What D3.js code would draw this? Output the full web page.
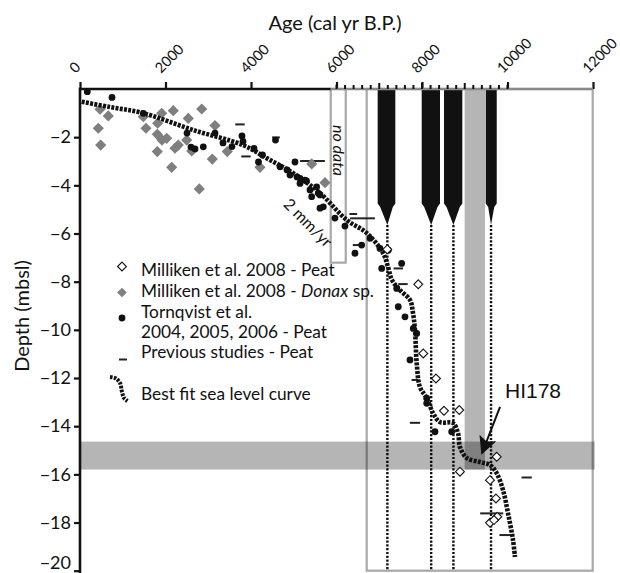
<!DOCTYPE html>
<html>
<head>
<meta charset="utf-8">
<script src="https://cdn.jsdelivr.net/npm/d3@7.9.0/dist/d3.min.js"></script>
<style>
  body { margin: 0; background: #fff; }
  svg { display: block; font-family: Lato, "Open Sans", sans-serif; }
</style>
</head>
<body>
<svg id="chart" width="620" height="573"></svg>
<script>
// best fit sea level curve (age cal yr BP, depth m)
const curveAge = [40, 702, 1474, 2643, 3813, 4367, 4982, 5614, 6239, 6706, 7088, 7205, 7298, 7485, 7719, 7789, 7836, 7876, 7953, 8110, 8257, 8421, 8725, 8842, 8889, 9046, 9357, 9591, 9747, 9895, 10012, 10129, 10175];
const curveDepth = [-0.53, -0.75, -1.0, -1.70, -2.33, -2.87, -3.49, -4.32, -5.44, -5.98, -6.81, -7.39, -7.93, -8.35, -8.76, -9.30, -10.01, -11.38, -12.38, -12.83, -13.45, -13.83, -13.87, -14.29, -14.87, -15.32, -15.49, -15.61, -15.95, -16.65, -17.61, -18.73, -19.43];

// Milliken et al. 2008 - Donax sp.
const donaxAge = [468, 662, 428, 484, 1481, 1544, 1817, 1911, 2182, 1808, 2028, 1918, 1808, 2222, 2299, 2145, 2533, 2847, 2496, 2613, 3158, 3095, 2790, 3445, 4210, 5420, 5731];
const donaxDepth = [-0.84, -1.12, -1.63, -2.33, -1.15, -1.63, -1.42, -1.01, -0.90, -1.88, -2.05, -2.12, -2.60, -2.46, -2.33, -3.25, -1.22, -0.83, -2.12, -2.57, -1.52, -2.91, -4.15, -2.60, -3.25, -3.11, -3.89];

// Tornqvist et al. 2004, 2005, 2006 - Peat
const tornAge = [171, 749, 1481, 2503, 2596, 2690, 2884, 3158, 3345, 3555, 3789, 3813, 4070, 4269, 4175, 4573, 5029, 4842, 4678, 4912, 5076, 5146, 5263, 5298, 5380, 5419, 5536, 5575, 5614, 5691, 5146, 5614, 5964, 6198, 6432, 6589, 6783, 7017, 7211, 7057, 7524, 7408, 7445, 7602, 7796, 7876, 7719, 8110, 8110, 8304, 8694];
const tornDepth = [-0.11, -0.35, -1.01, -1.83, -2.41, -2.49, -2.40, -1.83, -2.24, -2.39, -1.95, -2.18, -2.47, -2.74, -3.03, -2.12, -3.03, -3.36, -3.23, -3.57, -3.65, -3.71, -3.78, -3.82, -4.19, -4.47, -4.06, -4.33, -4.40, -4.89, -3.92, -4.95, -5.36, -5.69, -6.82, -6.48, -6.20, -6.62, -6.69, -7.45, -7.24, -8.28, -9.04, -9.46, -9.94, -10.15, -11.25, -12.84, -13.05, -14.23, -14.23];

// Milliken et al. 2008 - Peat
const peatAge = [7188, 7913, 8030, 8327, 8514, 8872, 8888, 9747, 9590, 9730, 9761, 9590, 9684];
const peatDepth = [-6.66, -8.11, -10.98, -12.02, -13.36, -13.33, -15.89, -15.27, -16.24, -17.00, -17.76, -18.01, -17.90];

// Previous studies - Peat (age, depth, age half-range)
const prevAge = [3742, 4584, 3883, 5438, 6393, 6608, 6472, 7445, 7555, 7836, 7836, 10448, 9630, 9941];
const prevDepth = [-1.47, -2.01, -2.80, -2.99, -5.19, -5.37, -6.48, -7.45, -8.10, -12.08, -13.86, -16.13, -17.62, -18.52];
const prevErr = [110, 90, 110, 290, 90, 290, 90, 110, 110, 80, 120, 120, 270, 130];

// black age bars at top and their dotted projections
const barStart = [6963, 7993, 8515, 9490];
const barEnd = [7376, 8421, 8943, 9748];
const barLine = [7190, 8215, 8735, 9615];
const barTop = 0, barWide = -4.75, barNeck = -4.9, barTip = -5.65;

// grey boxes / bands
const noDataAge = [5865, 6216], noDataDepth = [0, -7.21];
const frameAge = [6706, 11993], frameDepth = [0, -20];
const greyBarAge = [8998, 9474], greyBarDepth = [0, -15.8];
const bandDepth = [-14.64, -15.8];

// axis ticks
const ageTicks = [0, 2000, 4000, 6000, 8000, 10000, 12000];
const minorTicks = d3.range(6000, 10001, 200);
const midTicks = [7000, 8000, 9000];
const depthTicks = [-2, -4, -6, -8, -10, -12, -14, -16, -18, -20];

const svg = d3.select('#chart');
const x = d3.scaleLinear().domain([0, 12000]).range([80, 593]);
const y = d3.scaleLinear().domain([0, -20]).range([89, 570.7]);

// vertical grey bar (semi transparent, overlap with band darker)
svg.append('rect')
  .attr('x', x(greyBarAge[0])).attr('y', y(greyBarDepth[0]))
  .attr('width', x(greyBarAge[1]) - x(greyBarAge[0]))
  .attr('height', y(greyBarDepth[1]) - y(greyBarDepth[0]))
  .attr('fill', '#000').attr('opacity', 0.29);

// frames
svg.append('rect')
  .attr('x', x(frameAge[0])).attr('y', y(frameDepth[0]))
  .attr('width', x(frameAge[1]) - x(frameAge[0]))
  .attr('height', y(frameDepth[1]) - y(frameDepth[0]))
  .attr('fill', 'none').attr('stroke', '#a8a8a8').attr('stroke-width', 2.2);
svg.append('rect')
  .attr('x', x(noDataAge[0])).attr('y', y(noDataDepth[0]))
  .attr('width', x(noDataAge[1]) - x(noDataAge[0]))
  .attr('height', y(noDataDepth[1]) - y(noDataDepth[0]))
  .attr('fill', 'none').attr('stroke', '#a8a8a8').attr('stroke-width', 2.2);

// dotted vertical lines
barLine.forEach((a) => {
  svg.append('line')
    .attr('x1', x(a)).attr('x2', x(a))
    .attr('y1', y(barTip)).attr('y2', y(-20))
    .attr('stroke', '#111').attr('stroke-width', 2.4)
    .attr('stroke-dasharray', '2.2,1.6');
});

// black bars
barStart.forEach((s, i) => {
  const x0 = x(s), x1 = x(barEnd[i]), cx = x(barLine[i]);
  const pts = [
    [x0, y(barTop)], [x1, y(barTop)], [x1, y(barWide)],
    [x1 - 2.5, y(barNeck)], [cx, y(barTip)], [x0 + 2.5, y(barNeck)], [x0, y(barWide)]
  ];
  svg.append('path')
    .attr('d', d3.line()(pts) + 'Z')
    .attr('fill', '#111');
});

// horizontal band
svg.append('rect')
  .attr('x', x(0)).attr('y', y(bandDepth[0]))
  .attr('width', x(frameAge[1]) - x(0) + 2)
  .attr('height', y(bandDepth[1]) - y(bandDepth[0]))
  .attr('fill', '#000').attr('opacity', 0.29);

// previous studies dashes
prevAge.forEach((a, i) => {
  svg.append('line')
    .attr('x1', x(a - prevErr[i])).attr('x2', x(a + prevErr[i]))
    .attr('y1', y(prevDepth[i])).attr('y2', y(prevDepth[i]))
    .attr('stroke', '#222').attr('stroke-width', 2);
});

// Donax diamonds
const diamond = d3.symbol().type(d3.symbolDiamond2);
donaxAge.forEach((a, i) => {
  svg.append('path')
    .attr('d', diamond.size(80)())
    .attr('transform', `translate(${x(a)},${y(donaxDepth[i])})`)
    .attr('fill', '#7f7f7f');
});

// Tornqvist dots
tornAge.forEach((a, i) => {
  svg.append('circle')
    .attr('cx', x(a)).attr('cy', y(tornDepth[i])).attr('r', 3.4)
    .attr('fill', '#111');
});

// best fit curve
const curvePts = curveAge.map((a, i) => [x(a), y(curveDepth[i])]);
svg.append('path')
  .attr('d', d3.line().curve(d3.curveCatmullRom)(curvePts))
  .attr('fill', 'none').attr('stroke', '#111')
  .attr('stroke-width', 4.6).attr('stroke-dasharray', '3,1.3');

// Milliken peat open diamonds
peatAge.forEach((a, i) => {
  svg.append('path')
    .attr('d', diamond.size(50)())
    .attr('transform', `translate(${x(a)},${y(peatDepth[i])})`)
    .attr('fill', '#fff').attr('stroke', '#111').attr('stroke-width', 1.1);
});

// top axis
const topAxis = svg.append('g').attr('transform', `translate(0,${y(0)})`)
  .call(d3.axisTop(x).tickValues(ageTicks).tickSize(7).tickSizeOuter(0).tickFormat(d3.format('d')));
topAxis.select('.domain').remove();
topAxis.selectAll('.tick line').attr('stroke', '#111').attr('stroke-width', 2.2);
topAxis.selectAll('.tick text')
  .attr('x', 0).attr('y', 0).attr('dy', 0)
  .attr('transform', 'translate(-5,-15) rotate(-45)')
  .attr('text-anchor', 'start')
  .style('font-family', 'Lato, sans-serif').style('font-size', '14.5px').attr('fill', '#111');
svg.append('line').attr('x1', x(0) - 1).attr('x2', x(noDataAge[0]))
  .attr('y1', y(0)).attr('y2', y(0)).attr('stroke', '#111').attr('stroke-width', 2.6);
svg.append('line').attr('x1', x(noDataAge[0])).attr('x2', x(frameAge[1]))
  .attr('y1', y(0)).attr('y2', y(0)).attr('stroke', '#8a8a8a').attr('stroke-width', 2.6);
minorTicks.forEach((t) => {
  svg.append('line').attr('x1', x(t)).attr('x2', x(t))
    .attr('y1', y(0)).attr('y2', y(0) - (midTicks.includes(t) ? 6 : 4))
    .attr('stroke', '#111').attr('stroke-width', 2);
});

// left axis
const leftAxis = svg.append('g').attr('transform', `translate(${x(0)},0)`)
  .call(d3.axisLeft(y).tickValues(depthTicks).tickSize(6).tickSizeOuter(0));
leftAxis.select('.domain').remove();
leftAxis.selectAll('.tick line').attr('stroke', '#111').attr('stroke-width', 2.2);
leftAxis.selectAll('.tick text')
  .attr('dy', (d) => (d === -20 ? '-0.12em' : '0.32em'))
  .style('font-family', 'Lato, sans-serif').style('font-size', '18px').attr('fill', '#111');
svg.append('line').attr('x1', x(0)).attr('x2', x(0))
  .attr('y1', y(0) - 1.3).attr('y2', 573).attr('stroke', '#111').attr('stroke-width', 2.6);

// axis titles
svg.append('text').attr('x', 335).attr('y', 30).attr('text-anchor', 'middle')
  .style('font-size', '20px').attr('fill', '#111').text('Age (cal yr B.P.)');
svg.append('text').attr('transform', 'translate(29,316) rotate(-90)').attr('text-anchor', 'middle')
  .style('font-size', '20px').attr('fill', '#111').text('Depth (mbsl)');

// annotations
svg.append('text').attr('transform', `translate(${x(5333)},${y(-5.56)}) rotate(45)`)
  .attr('text-anchor', 'middle').attr('dy', '0.35em')
  .style('font-size', '16px').attr('fill', '#111').text('2 mm/yr');
svg.append('text').attr('transform', `translate(${x(6040)},${y(-2.55)}) rotate(90)`)
  .attr('text-anchor', 'middle').attr('dy', '0.35em')
  .style('font-size', '16px').style('font-style', 'italic').attr('fill', '#111').text('no data');

svg.append('defs').append('marker')
  .attr('id', 'head').attr('viewBox', '0 0 10 10').attr('refX', 9).attr('refY', 5)
  .attr('markerWidth', 9).attr('markerHeight', 9).attr('markerUnits', 'strokeWidth')
  .attr('orient', 'auto')
  .append('path').attr('d', 'M0,0L10,5L0,10L2,5Z').attr('fill', '#111');
svg.append('line')
  .attr('x1', x(9825)).attr('y1', y(-13.2)).attr('x2', x(9404)).attr('y2', y(-15.12))
  .attr('stroke', '#111').attr('stroke-width', 2).attr('marker-end', 'url(#head)');
svg.append('text').attr('x', x(9825) + 5).attr('y', 398)
  .style('font-family', '"Liberation Sans", Arial, sans-serif').style('font-size', '21px')
  .attr('fill', '#111').text('HI178');

// legend
const lg = svg.append('g').attr('fill', '#111').style('font-size', '17.3px');
lg.append('path').attr('d', diamond.size(50)()).attr('transform', 'translate(122,266.5)')
  .attr('fill', '#fff').attr('stroke', '#111').attr('stroke-width', 1.1);
lg.append('path').attr('d', diamond.size(60)()).attr('transform', 'translate(122,292.5)')
  .attr('fill', '#7f7f7f');
lg.append('circle').attr('cx', 122).attr('cy', 318).attr('r', 3.4).attr('fill', '#111');
lg.append('line').attr('x1', 119).attr('x2', 127).attr('y1', 359.5).attr('y2', 359.5)
  .attr('stroke', '#222').attr('stroke-width', 2);
lg.append('path')
  .attr('d', d3.line().curve(d3.curveCatmullRom)([[110, 377], [116, 378.5], [120, 383], [122, 392], [124, 398], [127.5, 401]]))
  .attr('fill', 'none').attr('stroke', '#111').attr('stroke-width', 4).attr('stroke-dasharray', '2.6,1.2');
lg.append('text').attr('x', 141).attr('y', 276).text('Milliken et al. 2008 - Peat');
const t2 = lg.append('text').attr('x', 141).attr('y', 297);
t2.append('tspan').text('Milliken et al. 2008 - ');
t2.append('tspan').style('font-style', 'italic').text('Donax');
t2.append('tspan').text(' sp.');
lg.append('text').attr('x', 141).attr('y', 318).text('Tornqvist et al.');
lg.append('text').attr('x', 141).attr('y', 338).text('2004, 2005, 2006 - Peat');
lg.append('text').attr('x', 141).attr('y', 358).text('Previous studies - Peat');
lg.append('text').attr('x', 141).attr('y', 400).text('Best fit sea level curve');
</script>
</body>
</html>
